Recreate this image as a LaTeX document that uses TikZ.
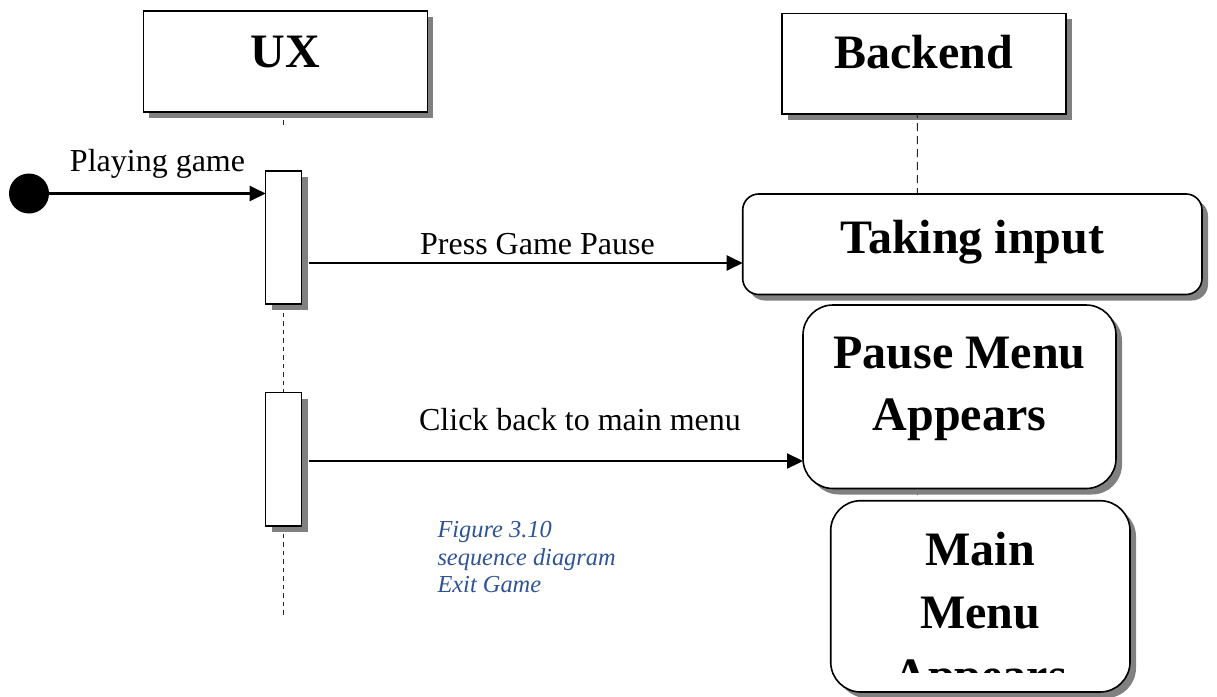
\documentclass[tikz,border=0pt]{standalone}
\usepackage{fontspec}
\setmainfont{Liberation Serif}
\usetikzlibrary{arrows.meta,shadows}
\definecolor{shade}{RGB}{128,128,128}
\definecolor{capblue}{RGB}{47,84,150}
\definecolor{lifegray}{RGB}{40,40,40}
\newcommand\boldbig{\fontsize{48}{58}\selectfont\bfseries}
\newcommand\msgfont{\fontsize{32}{38}\selectfont}
\newcommand\capfont{\fontsize{24.4}{27.5}\selectfont\itshape}
\begin{document}
\begin{tikzpicture}[x=1pt,y=-1pt,
  shadowed/.style={drop shadow={shadow xshift=6pt,shadow yshift=-6pt,fill=shade,opacity=1}},
  frame/.style={draw, line width=1.6pt, fill=white, shadowed, inner sep=0pt, outer sep=0pt},
  headbox/.style={frame},
  actbox/.style={frame, line width=1.5pt, minimum width=36pt, minimum height=133pt},
  statebox/.style={frame, rounded corners=#1},
  msg/.style={line width=2.2pt, -{Triangle[length=16pt,width=15pt]}},
  lifeux/.style={lifegray, line width=1pt, dash pattern=on 4.5pt off 4pt},
  lifebe/.style={lifegray, line width=1pt, dash pattern=on 8pt off 5pt, dash phase=-9pt},
  bigtext/.style={font=\boldbig, inner sep=0pt, anchor=base},
  msgtext/.style={font=\msgfont, inner sep=0pt, anchor=base},
  captext/.style={font=\capfont, text=capblue, inner sep=0pt, anchor=base west}
]
\useasboundingbox (0,0) rectangle (1217,696);

% lifeline end points
\coordinate (uxend) at (283.5,618);
\coordinate (beend) at (917.3,692);

% lifeline heads and their dashed lifelines (boxes drawn later cover them)
\node[headbox, minimum width=284pt, minimum height=100.7pt] (ux) at (285.3,61.35) {};
\node[headbox, minimum width=284.3pt, minimum height=100.7pt] (backend) at (923.85,63.65) {};
\draw[lifeux] ([xshift=-2pt,yshift=-8.3pt]ux.south) -- ++(0,8.3);
\draw[lifebe] ([xshift=-6.5pt]backend.south) -- (beend);

% activation bars on the UX lifeline
\draw[lifeux] (283.5,304) -- (uxend);
\node[actbox] (act1) at (283.7,237.5) {};
\node[actbox, minimum height=133.3pt] (act2) at (283.7,459.35) {};

% backend states
\node[statebox=16pt, minimum width=459.3pt, minimum height=100.5pt] (take) at (972.35,244.25) {};
\node[statebox=30pt, minimum width=313pt, minimum height=183.5pt] (pause) at (959.5,396.75) {};
\node[statebox=30pt, minimum width=299.3pt, minimum height=191.3pt] (main) at (980.35,596.35) {};

% initial state
\node[circle, fill=black, minimum size=40pt, inner sep=0pt] (start) at (29,193.5) {};

% headings
\node[bigtext] (uxlabel) at (285.3,67) {UX};
\node[bigtext] (belabel) at (923.5,68) {Backend};

% state texts
\node[bigtext] (taketext) at (972.3,253) {Taking input};
\node[bigtext] (pausetexta) at (959.5,368) {Pause Menu};
\node[bigtext] (pausetextb) at (959.5,430) {Appears};
\begin{scope}
  \clip (831,500) rectangle (1130,672);
  \node[bigtext] (maintexta) at (980.3,565) {Main};
  \node[bigtext] (maintextb) at (980.3,628) {Menu};
  \node[bigtext] (maintextc) at (980.3,691) {Appears};
\end{scope}

% messages
\coordinate (a1out) at ([xshift=7pt]act1.east);
\coordinate (a2out) at ([xshift=7pt]act2.east);
\coordinate (takein) at ([yshift=-18.75pt]take.west);
\coordinate (pausein) at ([yshift=-64.25pt]pause.west);
\draw[msg] (start.east) -- (act1.west |- start.east);
\draw[msg] (a1out |- takein) -- (takein);
\draw[msg] (a2out |- pausein) -- (pausein);

\node[msgtext] (m0) at (157.5,171) {Playing game};
\node[msgtext] (m1) at (537.5,254) {Press Game Pause};
\node[msgtext] (m2) at (580,430) {Click back to main menu};

% caption
\node[captext] (cap1) at (437.3,537) {Figure 3.10};
\node[captext] (cap2) at (437.3,565) {sequence diagram};
\node[captext] (cap3) at (437.3,592) {Exit Game};
\end{tikzpicture}
\end{document}
